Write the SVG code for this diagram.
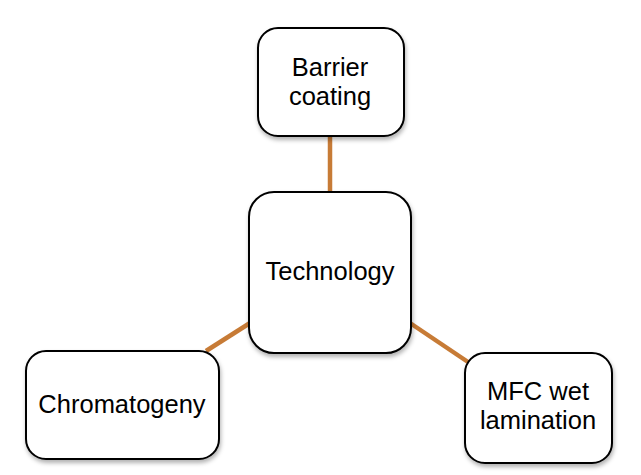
<svg xmlns="http://www.w3.org/2000/svg" width="641" height="475" viewBox="0 0 641 475">
<style>
.box{fill:#fff;stroke:#000;stroke-width:2;filter:url(#sh)}
.t{font-family:"Liberation Sans",Arial,sans-serif;font-size:25.5px;fill:#000;text-anchor:middle}
.c{stroke:#C77B36;stroke-width:4.5;fill:none}
</style>
<defs>
<filter id="sh" x="-10%" y="-10%" width="125%" height="130%">
<feDropShadow dx="1" dy="3" stdDeviation="2" flood-color="#000" flood-opacity="0.3"/>
</filter>
</defs>
<rect width="641" height="475" fill="#fff"/>
<g id="connectors">
<line class="c" x1="330" y1="137" x2="330" y2="193"/>
<line class="c" x1="206" y1="351" x2="250" y2="323"/>
<line class="c" x1="410" y1="323" x2="468" y2="362"/>
</g>
<g id="barrier">
<rect class="box" x="258" y="28" width="146" height="108" rx="20"/>
<text class="t" x="330" y="76">Barrier</text>
<text class="t" x="330" y="105">coating</text>
</g>
<g id="technology">
<rect class="box" x="249" y="192" width="162" height="161" rx="25"/>
<text class="t" x="330" y="280">Technology</text>
</g>
<g id="chromatogeny">
<rect class="box" x="26" y="351" width="193" height="108" rx="20"/>
<text class="t" x="122" y="413">Chromatogeny</text>
</g>
<g id="mfc">
<rect class="box" x="465" y="353" width="147" height="110" rx="20"/>
<text class="t" x="538" y="400">MFC wet</text>
<text class="t" x="538" y="429">lamination</text>
</g>
</svg>
